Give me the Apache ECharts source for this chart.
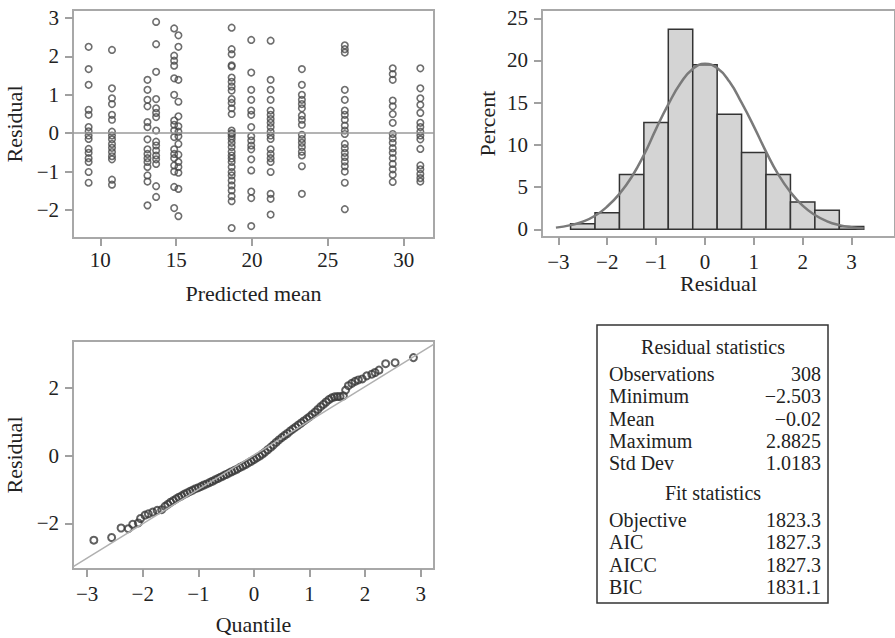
<!DOCTYPE html>
<html lang="en" style="height: 100%">
<head>
  <meta charset="UTF-8">
  <title>Residual panel</title>
</head>
<body style="height: 100%; margin: 0; background: #fff">
<div id="container" style="width: 895px; height: 638px"></div>
<script type="text/javascript" src="https://cdn.jsdelivr.net/npm/echarts@6/dist/echarts.min.js"></script>

<script type="text/javascript">
  // residual vs predicted mean, one list of residuals per predicted value
  var predMean = [9.23, 10.77, 13.11, 13.68, 14.87, 15.15, 18.66, 19.95, 21.23, 23.29, 26.12, 29.28, 31.1];
  var residByMean = [
    [2.25, 1.67, 1.26, 0.61, 0.48, 0.16, 0.05, -0.06, -0.15, -0.41, -0.51, -0.65, -0.75, -1.01, -1.29],
    [2.17, 1.17, 0.91, 0.76, 0.48, 0.35, 0.04, -0.06, -0.16, -0.28, -0.38, -0.49, -0.60, -0.68, -1.21, -1.34],
    [1.39, 1.13, 0.87, 0.70, 0.29, 0.16, -0.16, -0.42, -0.54, -0.65, -0.75, -0.88, -1.10, -1.26, -1.88],
    [2.90, 2.32, 1.60, 0.89, 0.65, 0.53, 0.42, 0.07, -0.22, -0.32, -0.45, -0.58, -0.68, -0.80, -1.38, -1.66],
    [2.73, 2.02, 1.89, 1.76, 1.43, 1.00, 0.33, 0.22, 0.07, -0.10, -0.42, -0.54, -0.65, -0.84, -1.00, -1.40, -1.95],
    [2.55, 2.25, 1.39, 0.82, 0.44, 0.18, 0.04, -0.08, -0.28, -0.56, -0.75, -0.88, -1.03, -1.45, -2.16],
    [2.75, 2.19, 2.06, 1.77, 1.74, 1.45, 1.34, 1.22, 1.11, 0.89, 0.79, 0.65, 0.50, 0.07, 0.0, -0.02, -0.08, -0.15, -0.25,
     -0.36, -0.48, -0.58, -0.66, -0.75, -0.88, -1.01, -1.10, -1.23, -1.36, -1.49, -1.64, -1.77, -2.47],
    [2.43, 1.58, 1.13, 0.87, 0.59, 0.48, 0.16, -0.08, -0.19, -0.32, -0.42, -0.68, -0.97, -1.52, -1.69, -2.42],
    [2.41, 1.39, 1.13, 0.87, 0.59, 0.48, 0.37, 0.27, 0.16, 0.04, -0.06, -0.15, -0.42, -0.54, -0.65, -0.75, -1.01, -1.58, -1.71, -2.12],
    [1.67, 1.26, 1.00, 0.87, 0.76, 0.65, 0.46, 0.35, 0.22, -0.04, -0.15, -0.25, -0.36, -0.48, -0.58, -0.86, -1.58],
    [2.29, 2.19, 2.10, 1.13, 0.87, 0.59, 0.48, 0.35, 0.20, 0.07, -0.02, -0.28, -0.39, -0.51, -0.62, -0.74, -0.86, -1.00, -1.29, -1.98],
    [1.69, 1.54, 1.39, 0.85, 0.70, 0.50, 0.27, -0.02, -0.13, -0.25, -0.39, -0.51, -0.65, -0.80, -0.94, -1.08, -1.27],
    [1.69, 1.17, 0.91, 0.74, 0.53, 0.27, 0.16, 0.04, -0.06, -0.16, -0.41, -0.84, -0.94, -1.06, -1.17, -1.26]
  ];

  // histogram of residuals (bin centres, width 0.5) and fitted normal curve
  var binCenters = [-2.5, -2.0, -1.5, -1.0, -0.5, 0.0, 0.5, 1.0, 1.5, 2.0, 2.5, 3.0];
  var binPercent = [0.65, 1.95, 6.49, 12.66, 23.70, 19.48, 13.64, 9.09, 6.49, 3.25, 2.27, 0.32];
  var binWidth = 0.5;
  var curveX = [-3.05, -2.75, -2.5, -2.25, -2.0, -1.75, -1.5, -1.25, -1.0, -0.75, -0.5, -0.25, 0.0,
                0.25, 0.5, 0.75, 1.0, 1.25, 1.5, 1.75, 2.0, 2.25, 2.5, 2.75, 3.0, 3.25];
  var curvePct = [0.2, 0.5, 0.9, 1.6, 2.7, 4.2, 6.2, 8.8, 11.9, 14.8, 17.3, 19.0, 19.6,
                  19.1, 17.5, 15.0, 12.2, 9.2, 6.5, 4.4, 2.8, 1.7, 0.95, 0.5, 0.25, 0.12];

  // normal quantile plot
  var qqQuantile = [-2.88, -2.56, -2.39, -2.26, -2.18, -2.08, -2.04, -1.96, -1.90, -1.82, -1.74, -1.66,
    -1.60, -1.55, -1.50, -1.45, -1.40, -1.35, -1.30, -1.25, -1.20, -1.15, -1.10, -1.05, -1.00, -0.95,
    -0.90, -0.85, -0.80, -0.75, -0.70, -0.65, -0.60, -0.55, -0.50, -0.45, -0.40, -0.35, -0.30, -0.25,
    -0.20, -0.15, -0.10, -0.05, 0.00, 0.05, 0.10, 0.15, 0.20, 0.25, 0.30, 0.35, 0.40, 0.45, 0.50, 0.55,
    0.60, 0.65, 0.70, 0.75, 0.80, 0.85, 0.90, 0.95, 1.00, 1.05, 1.10, 1.15, 1.20, 1.25, 1.30, 1.35,
    1.40, 1.45, 1.50, 1.55, 1.61, 1.65, 1.70, 1.76, 1.82, 1.88, 1.95, 2.03, 2.12, 2.18, 2.25, 2.37, 2.54, 2.87];
  var qqResidual = [-2.50, -2.42, -2.14, -2.16, -2.03, -1.99, -1.86, -1.76, -1.72, -1.67, -1.62, -1.60,
    -1.50, -1.44, -1.38, -1.33, -1.28, -1.23, -1.19, -1.14, -1.10, -1.06, -1.02, -0.98, -0.95, -0.91,
    -0.87, -0.84, -0.80, -0.76, -0.72, -0.68, -0.64, -0.60, -0.56, -0.52, -0.48, -0.44, -0.40, -0.35,
    -0.31, -0.27, -0.22, -0.17, -0.12, -0.07, -0.02, 0.04, 0.10, 0.17, 0.24, 0.31, 0.39, 0.46, 0.53, 0.59,
    0.65, 0.72, 0.78, 0.84, 0.90, 0.96, 1.02, 1.08, 1.14, 1.21, 1.28, 1.36, 1.44, 1.51, 1.58, 1.65,
    1.70, 1.73, 1.74, 1.74, 1.76, 1.93, 2.06, 2.13, 2.19, 2.23, 2.26, 2.35, 2.40, 2.45, 2.52, 2.71, 2.74, 2.89];
  var refLine = [[-3.25, -3.28], [3.24, 3.29]];

  // tick labels
  var meanTicks = [10, 15, 20, 25, 30];
  var residTicks = [-2, -1, 0, 1, 2, 3];
  var pctTicks = [0, 5, 10, 15, 20, 25];
  var residBinTicks = [-3, -2, -1, 0, 1, 2, 3];
  var qqXTicks = [-3, -2, -1, 0, 1, 2, 3];
  var qqYTicks = [-2, 0, 2];

  // summary table
  var residStatNames = ['Observations', 'Minimum', 'Mean', 'Maximum', 'Std Dev'];
  var residStatValues = ['308', '\u22122.503', '\u22120.02', '2.8825', '1.0183'];
  var fitStatNames = ['Objective', 'AIC', 'AICC', 'BIC'];
  var fitStatValues = ['1823.3', '1827.3', '1827.3', '1831.1'];

  var FONT = 'Liberation Serif';
  var minus = function (v) { return String(v).replace('-', '\u2212'); };

  function valueAxis(grid, min, max, ticks, name, gap, margin) {
    return {
      type: 'value', gridIndex: grid, min: min, max: max, scale: true,
      name: name, nameLocation: 'middle', nameGap: gap,
      nameTextStyle: { fontFamily: FONT, fontSize: 22, color: '#222' },
      axisLine: { show: false, onZero: false },
      axisTick: { show: true, length: 8, customValues: ticks, lineStyle: { color: '#a0a0a0', width: 2 } },
      axisLabel: { customValues: ticks, formatter: minus, margin: margin,
        fontFamily: FONT, fontSize: 21, color: '#222' },
      splitLine: { show: false }
    };
  }

  var scatterData = [];
  predMean.forEach(function (m, i) {
    residByMean[i].forEach(function (r) { scatterData.push([m, r]); });
  });
  var barData = binCenters.map(function (c, i) { return [c, binPercent[i]]; });
  var curveData = curveX.map(function (x, i) { return [x, curvePct[i]]; });
  var qqData = qqQuantile.map(function (q, i) { return [q, qqResidual[i]]; });

  var tableGraphics = [{
    type: 'rect', shape: { x: 597, y: 325, width: 231, height: 278 },
    style: { fill: '#fff', stroke: '#333', lineWidth: 1.5 }
  }];
  function addText(txt, x, y, align) {
    tableGraphics.push({ type: 'text', x: x, y: y,
      style: { text: txt, fontFamily: FONT, fontSize: 20, fill: '#222', align: align, verticalAlign: 'middle' } });
  }
  addText('Residual statistics', 713, 347, 'center');
  residStatNames.forEach(function (n, i) {
    addText(n, 609, 374 + i * 22.3, 'left');
    addText(residStatValues[i], 821, 374 + i * 22.3, 'right');
  });
  addText('Fit statistics', 713, 493, 'center');
  fitStatNames.forEach(function (n, i) {
    addText(n, 609, 520 + i * 22.3, 'left');
    addText(fitStatValues[i], 821, 520 + i * 22.3, 'right');
  });

  var dom = document.getElementById('container');
  var myChart = echarts.init(dom, null, { renderer: 'svg' });
  var gridStyle = { show: true, borderColor: '#a8a8a8', borderWidth: 2, backgroundColor: 'transparent' };

  var option = {
    animation: false,
    grid: [
      Object.assign({ left: 73, top: 10, width: 361, height: 228 }, gridStyle),
      Object.assign({ left: 542, top: 10, width: 358, height: 227 }, gridStyle),
      Object.assign({ left: 73, top: 341, width: 361, height: 228 }, gridStyle)
    ],
    xAxis: [
      valueAxis(0, 8.2, 32, meanTicks, 'Predicted mean', 44, 11),
      valueAxis(1, -3.335, 3.89, residBinTicks, 'Residual', 35, 14),
      valueAxis(2, -3.255, 3.24, qqXTicks, 'Quantile', 44, 14)
    ],
    yAxis: [
      valueAxis(0, -2.73, 3.21, residTicks, 'Residual', 48, 14),
      valueAxis(1, -0.91, 25.98, pctTicks, 'Percent', 44, 14),
      valueAxis(2, -3.35, 3.38, qqYTicks, 'Residual', 48, 14)
    ],
    series: [
      {
        type: 'scatter', xAxisIndex: 0, yAxisIndex: 0, data: scatterData,
        symbol: 'circle', symbolSize: 6.5,
        itemStyle: { color: 'rgba(0,0,0,0)', borderColor: '#4a4a4a', borderWidth: 1.6 },
        markLine: {
          silent: true, symbol: 'none', label: { show: false },
          lineStyle: { color: '#9a9a9a', width: 1.6, type: 'solid' },
          data: [{ yAxis: 0 }]
        }
      },
      {
        type: 'custom', xAxisIndex: 1, yAxisIndex: 1, data: barData,
        renderItem: function (params, api) {
          var c = api.value(0), h = api.value(1);
          var p0 = api.coord([c - binWidth / 2, h]);
          var p1 = api.coord([c + binWidth / 2, 0]);
          return { type: 'rect',
            shape: { x: p0[0], y: p0[1], width: p1[0] - p0[0], height: p1[1] - p0[1] },
            style: { fill: '#d4d4d4', stroke: '#333', lineWidth: 1.5 } };
        }
      },
      {
        type: 'line', xAxisIndex: 1, yAxisIndex: 1, data: curveData, smooth: true,
        symbol: 'none', lineStyle: { color: '#7a7a7a', width: 2.5 }
      },
      {
        type: 'line', xAxisIndex: 2, yAxisIndex: 2, data: refLine,
        symbol: 'none', lineStyle: { color: '#b0b0b0', width: 1.5 }
      },
      {
        type: 'scatter', xAxisIndex: 2, yAxisIndex: 2, data: qqData,
        symbol: 'circle', symbolSize: 7,
        itemStyle: { color: 'rgba(0,0,0,0)', borderColor: '#383838', borderWidth: 2 }
      }
    ],
    graphic: tableGraphics
  };
  myChart.setOption(option);

  window.addEventListener('resize', myChart.resize);
</script>
</body>
</html>
